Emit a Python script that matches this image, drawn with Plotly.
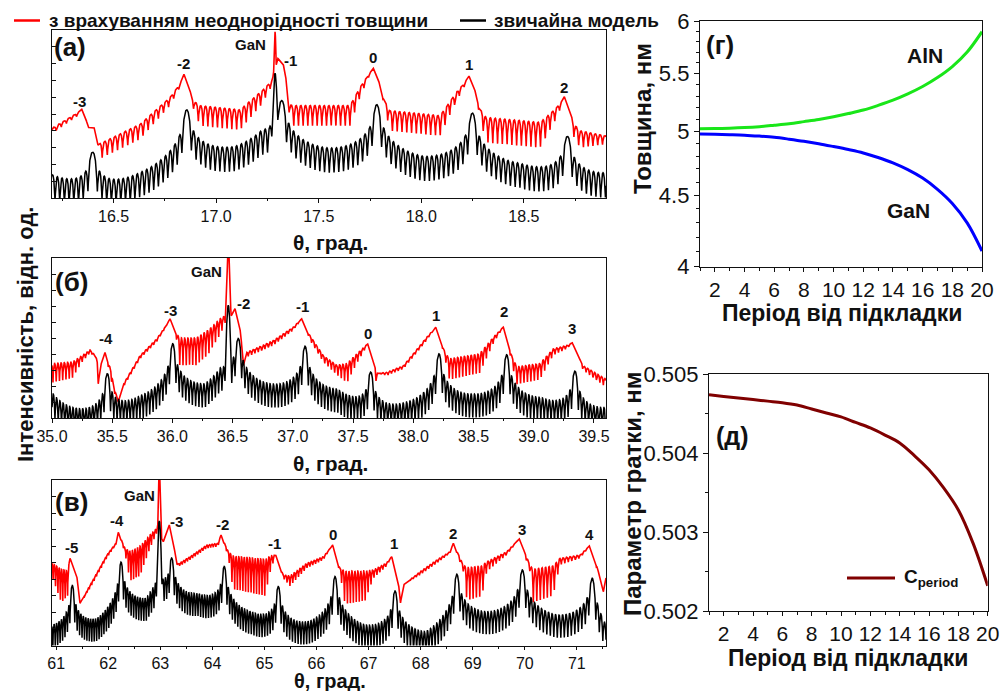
import numpy as np
import plotly.graph_objects as go

W, H = 1000, 691
N = 20  # number of superlattice periods (fringes between satellites)
FONT = "Liberation Sans, Arial, sans-serif"

# ---------------- Panel (a) ----------------
a_order = [-3, -2, -1, 0, 1, 2]
a_black_sat_theta = [16.398, 16.856, 17.320, 17.783, 18.249, 18.712]
a_black_sat_height = [27.0, 52.4, 57.9, 55.4, 50.4, 36.5]
a_black_base_theta = [16.20, 16.627, 17.09, 17.22, 17.55, 18.016, 18.48, 18.90]
a_black_base = [39.5, 41.0, 56.5, 62.0, 55.6, 50.6, 46.6, 40.5]
a_red_sat_theta = [16.345, 16.843, 17.310, 17.766, 18.232, 18.697]
a_red_env_theta = [16.200, 16.327, 16.345, 16.366, 16.375, 16.405, 16.424, 16.444, 16.629, 16.775,
                   16.824, 16.843, 16.863, 16.887, 16.921, 17.116, 17.224, 17.272, 17.301, 17.326,
                   17.338, 17.350, 17.370, 17.652, 17.701, 17.740, 17.766, 17.789, 17.818, 17.847,
                   18.091, 18.164, 18.213, 18.232, 18.257, 18.286, 18.315, 18.579, 18.652, 18.681,
                   18.697, 18.720, 18.744, 18.774, 18.900]
a_red_env_top = [41.5, 51, 52.8, 47, 42, 42, 32, 33, 44, 60,
                 68, 73.6, 68, 58, 55, 52.5, 64, 70, 83, 80,
                 74, 57, 55, 55, 66, 73, 77.2, 71, 59, 52,
                 49, 62, 69, 72.6, 66, 53, 48, 45, 53, 57,
                 60.3, 53, 44, 40, 37]
a_red_env_depth = [3, 2, 0, 0, 0, 0, 2, 9, 9, 5,
                   2, 0, 0, 4, 12, 12, 8, 3, 0, 0,
                   0, 3, 12, 12, 6, 2, 0, 0, 3, 12,
                   12, 6, 2, 0, 0, 5, 15, 15, 7, 3,
                   0, 0, 8, 10, 5]
a_gan_theta = 17.287
a_gan_black = 74.2
a_gan_red = 99.0
a_labels = ["-3", "-2", "GaN", "-1", "0", "1", "2"]
a_label_theta = [16.336, 16.840, 17.168, 17.363, 17.766, 18.232, 18.697]
a_label_val = [57.3, 80.2, 91.1, 82.1, 83.5, 79.2, 65.9]

# ---------------- Panel (б) ----------------
b_order = [-4, -3, -2, -1, 0, 1, 2, 3]
b_black_sat_theta = [35.459, 36.002, 36.547, 37.101, 37.646, 38.213, 38.775, 39.342]
b_black_sat_height = [27.5, 46.3, 49.5, 44.8, 28.5, 40.0, 39.4, 29.1]
b_black_base_theta = [35.0, 35.73, 36.27, 36.40, 36.824, 37.37, 37.93, 38.494, 39.06, 39.6]
b_black_base = [35.4, 39.8, 47.2, 55.0, 47.2, 44.0, 35.6, 40.9, 38.8, 32.4]
b_red_sat_theta = [35.440, 35.980, 36.519, 37.073, 37.621, 38.186, 38.747, 39.320]
b_red_env_theta = [35.000, 35.170, 35.250, 35.316, 35.360, 35.375, 35.384, 35.400, 35.440, 35.470,
                   35.490, 35.510, 35.550, 35.592, 35.731, 35.869, 35.940, 35.980, 36.010, 36.035,
                   36.060, 36.200, 36.300, 36.395, 36.440, 36.490, 36.519, 36.550, 36.575, 36.590,
                   36.617, 36.837, 37.003, 37.073, 37.100, 37.142, 37.253, 37.364, 37.450, 37.530,
                   37.600, 37.621, 37.650, 37.682, 37.690, 37.700, 37.779, 37.917, 38.056, 38.111,
                   38.186, 38.220, 38.263, 38.300, 38.550, 38.664, 38.747, 38.780, 38.817, 38.860,
                   39.050, 39.162, 39.280, 39.320, 39.360, 39.411, 39.600]
b_red_env_top = [34, 35, 39, 42.6, 39, 36, 21.2, 32, 41, 34,
                 30, 21, 10, 21.2, 39, 49.5, 57, 62, 57, 52.6,
                 50, 50, 55, 62, 64, 64, 68.4, 60, 49.5, 33,
                 41, 48.4, 56.8, 62, 57, 51.6, 39, 33, 34, 40,
                 45, 46.3, 40, 32.7, 23, 28, 28.5, 32.7, 45.3, 50.5,
                 56.8, 50, 41, 37, 40, 50.5, 56.8, 49, 39, 32,
                 34, 43.2, 45.5, 47, 40, 32.7, 24.3]
b_red_env_depth = [12, 10, 4, 2, 1, 0, 0, 0, 0, 3,
                   6, 4, 0, 2, 2, 2, 1, 0, 0, 4,
                   17, 17, 15, 10, 5, 0, 0, 0, 4, 0,
                   3, 3, 2, 0, 0, 3, 4, 6, 12, 6,
                   2, 0, 0, 0, 0, 0, 2, 2, 2, 2,
                   0, 0, 4, 13, 12, 4, 0, 0, 5, 11,
                   10, 4, 2, 0, 0, 3, 5]
b_gan_theta = 36.464
b_gan_black = 70.4
b_gan_red = 112.0
b_labels = ["-4", "-3", "GaN", "-2", "-1", "0", "1", "2", "3"]
b_label_theta = [35.446, 35.980, 36.284, 36.594, 37.082, 37.626, 38.186, 38.755, 39.320]
b_label_val = [49.9, 67.3, 91.4, 71.5, 69.4, 52.6, 64.2, 66.7, 55.8]

# ---------------- Panel (в) ----------------
c_order = [-5, -4, -3, -2, -1, 0, 1, 2, 3, 4]
c_black_sat_theta = [61.310, 62.245, 63.219, 64.229, 65.266, 66.355, 67.508, 68.693, 69.953, 71.297]
c_black_sat_height = [36.1, 50.3, 52.7, 47.6, 35.5, 41.6, 32.9, 43.0, 45.6, 40.6]
c_black_base_theta = [60.92, 61.78, 62.73, 62.95, 63.72, 64.75, 65.81, 66.93, 68.10, 69.32, 70.62, 71.56]
c_black_base = [35.5, 39.8, 52.0, 62.0, 55.0, 43.8, 37.8, 35.8, 31.7, 43.8, 41.8, 31.5]
c_red_sat_theta = [61.266, 62.193, 63.173, 64.166, 65.216, 66.311, 67.444, 68.628, 69.895, 71.240]
c_red_env_theta = [60.920, 61.100, 61.220, 61.250, 61.266, 61.394, 61.458, 61.650, 61.971, 62.163,
                   62.193, 62.322, 62.418, 62.610, 62.802, 62.931, 63.058, 63.173, 63.250, 63.315,
                   63.378, 63.570, 63.891, 64.108, 64.166, 64.306, 64.396, 65.011, 65.107, 65.216,
                   65.362, 65.491, 65.812, 66.131, 66.311, 66.451, 66.547, 66.931, 67.091, 67.348,
                   67.444, 67.571, 67.613, 67.667, 67.988, 68.309, 68.564, 68.628, 68.820, 68.890,
                   69.179, 69.269, 69.653, 69.895, 70.100, 70.158, 70.542, 70.677, 71.061, 71.240,
                   71.382, 71.509, 71.560]
c_red_env_top = [49.7, 46, 45, 50, 52.7, 42.6, 25.5, 36.6, 54.7, 62.7,
                 68.4, 58.7, 57, 60, 66.8, 70.8, 62.7, 72.8, 62.7, 49,
                 50, 53.7, 60.7, 61.8, 66.8, 56.7, 54, 52, 54, 54.7,
                 42.6, 42, 49.7, 53.7, 60.7, 46.6, 45, 45, 45.6, 50,
                 53.7, 38.5, 25.7, 36.6, 44.6, 51.7, 56.7, 61.8, 48.6, 47,
                 48, 50.6, 56.7, 64.4, 48.6, 46, 48, 52.7, 54.7, 60.1,
                 48.6, 32.5, 40.8]
c_red_env_depth = [8, 20, 15, 3, 0, 0, 0, 2, 2, 1,
                   0, 3, 18, 18, 8, 3, 0, 0, 0, 0,
                   2, 2, 2, 2, 0, 3, 20, 22, 10, 0,
                   2, 6, 3, 2, 0, 3, 20, 18, 5, 2,
                   0, 0, 0, 0, 2, 2, 1, 0, 4, 20,
                   18, 6, 2, 0, 4, 20, 18, 4, 2, 0,
                   2, 0, 0]
c_gan_theta = 62.981
c_gan_black = 75.2
c_gan_red = 112.0
c_labels = ["-5", "-4", "GaN", "-3", "-2", "-1", "0", "1", "2", "3", "4"]
c_label_theta = [61.298, 62.174, 62.591, 63.315, 64.198, 65.189, 66.323, 67.489, 68.627, 69.953, 71.239]
c_label_val = [59.1, 75.8, 90.9, 74.8, 73.2, 61.8, 67.2, 61.8, 67.8, 69.8, 67.2]

# ---------------- Panel (г) ----------------
g_period = list(range(1, 21))
g_gan = [4.979, 4.977, 4.974, 4.970, 4.962, 4.952, 4.937, 4.920, 4.900, 4.877,
         4.853, 4.826, 4.790, 4.748, 4.695, 4.630, 4.545, 4.440, 4.300, 4.105]
g_aln = [5.022, 5.024, 5.027, 5.032, 5.040, 5.052, 5.065, 5.082, 5.100, 5.123,
         5.150, 5.180, 5.220, 5.265, 5.320, 5.385, 5.465, 5.565, 5.700, 5.895]

# ---------------- Panel (д) ----------------
d_period = list(range(1, 21))
d_c = [0.50474, 0.50472, 0.50470, 0.50468, 0.50466, 0.50464, 0.50461, 0.50456, 0.50451, 0.50446,
       0.50439, 0.50432, 0.50423, 0.50413, 0.50397, 0.50379, 0.50356, 0.50328, 0.50286, 0.50232]


def order_coord(theta, sat_theta, sat_order):
    t = np.asarray(sat_theta, float)
    o = np.asarray(sat_order, float)
    x = np.interp(theta, t, o)
    lo = theta < t[0]
    hi = theta > t[-1]
    x[lo] = o[0] - (t[0] - theta[lo]) / (t[1] - t[0])
    x[hi] = o[-1] + (theta[hi] - t[-1]) / (t[-1] - t[-2])
    return x


def kin(x):
    s2 = np.sin(np.pi * x) ** 2
    small = s2 < 1e-10
    s2c = np.where(small, 1.0, s2)
    S = np.where(small, 1.0, np.sin(N * np.pi * x) ** 2 / (N ** 2 * s2c))
    M = np.where(small, 1.0, np.minimum(1.0 / (N ** 2 * s2c), 1.0))
    return S, M


def black_curve(theta, sat_t, order, sat_h, base_t, base_v, gan_t, gan_h, k, e, gam):
    nodes = sorted(zip(list(sat_t) + list(base_t), list(sat_h) + list(base_v)))
    nt = np.array([n[0] for n in nodes])
    nv = np.array([n[1] for n in nodes])
    B = np.interp(theta, nt, nv)
    S, M = kin(order_coord(theta, sat_t, order))
    g = np.array([gan_t])
    Sg, Mg = kin(order_coord(g, sat_t, order))
    Bg = np.interp(g, nt, nv)[0]
    A = max(10 ** ((gan_h - Bg) / k) - Sg[0] - e * Mg[0], 0.0)
    G = np.exp(-((theta - gan_t) / gam) ** 2)
    return B + k * np.log10(S + e * M + A * G)


def red_curve(theta, sat_t, order, env_t, env_top, env_depth, gan_t, gan_h, gam, e=0.012, ks=40.0):
    x = order_coord(theta, sat_t, order)
    h = np.clip(np.log10(np.sin(N * np.pi * x) ** 2 + e) / np.log10(e), 0, 1)
    y = np.interp(theta, env_t, env_top) - np.interp(theta, env_t, env_depth) * h
    spike = gan_h - ks * np.log10(1 + ((theta - gan_t) / gam) ** 2)
    return np.maximum(y, spike)


def grid(lo, hi, n, gan_t):
    t = np.concatenate([np.linspace(lo, hi, n), np.linspace(gan_t - 0.04, gan_t + 0.04, 600)])
    return np.unique(t)


fig = go.Figure()

panels = [
    dict(ax="", rng=(16.2, 18.9), n=7000, order=a_order,
         bs=a_black_sat_theta, bh=a_black_sat_height, bt=a_black_base_theta, bb=a_black_base,
         rs=a_red_sat_theta, rt=a_red_env_theta, ru=a_red_env_top, rd=a_red_env_depth,
         gt=a_gan_theta, gb=a_gan_black, gr=a_gan_red, k=10.0, e=0.035, gamb=0.005, gamr=0.004),
    dict(ax="2", rng=(35.0, 39.6), n=9000, order=b_order,
         bs=b_black_sat_theta, bh=b_black_sat_height, bt=b_black_base_theta, bb=b_black_base,
         rs=b_red_sat_theta, rt=b_red_env_theta, ru=b_red_env_top, rd=b_red_env_depth,
         gt=b_gan_theta, gb=b_gan_black, gr=b_gan_red, k=10.0, e=0.035, gamb=0.008, gamr=0.006),
    dict(ax="3", rng=(60.92, 71.56), n=11000, order=c_order,
         bs=c_black_sat_theta, bh=c_black_sat_height, bt=c_black_base_theta, bb=c_black_base,
         rs=c_red_sat_theta, rt=c_red_env_theta, ru=c_red_env_top, rd=c_red_env_depth,
         gt=c_gan_theta, gb=c_gan_black, gr=c_gan_red, k=9.0, e=0.03, gamb=0.016, gamr=0.010),
]

for p in panels:
    th = grid(p["rng"][0], p["rng"][1], p["n"], p["gt"])
    yr = red_curve(th, p["rs"], p["order"], p["rt"], p["ru"], p["rd"], p["gt"], p["gr"], p["gamr"])
    yb = black_curve(th, p["bs"], p["order"], p["bh"], p["bt"], p["bb"], p["gt"], p["gb"],
                     p["k"], p["e"], p["gamb"])
    fig.add_trace(go.Scatter(x=th, y=yr, mode="lines", line=dict(color="#ff0000", width=1.6),
                             xaxis="x" + p["ax"], yaxis="y" + p["ax"], hoverinfo="skip"))
    fig.add_trace(go.Scatter(x=th, y=yb, mode="lines", line=dict(color="#000000", width=1.5),
                             xaxis="x" + p["ax"], yaxis="y" + p["ax"], hoverinfo="skip"))

fig.add_trace(go.Scatter(x=g_period, y=g_aln, mode="lines", line=dict(color="#19e619", width=3, shape="spline"),
                         xaxis="x4", yaxis="y4", hoverinfo="skip"))
fig.add_trace(go.Scatter(x=g_period, y=g_gan, mode="lines", line=dict(color="#0000ff", width=3, shape="spline"),
                         xaxis="x4", yaxis="y4", hoverinfo="skip"))
fig.add_trace(go.Scatter(x=d_period, y=d_c, mode="lines", line=dict(color="#800000", width=3, shape="spline"),
                         xaxis="x5", yaxis="y5", hoverinfo="skip"))


def dom_x(a, b):
    return [a / W, b / W]


def dom_y(top, bottom):
    return [1 - bottom / H, 1 - top / H]


axis_common = dict(showline=True, linecolor="#111", linewidth=1.3, mirror=True, showgrid=False,
                   zeroline=False, tickcolor="#111", automargin=False)

xrd_frames = [("", (52, 606), (30, 198), 0.5, 0.25, ".1f"),
              ("2", (52, 606), (258, 418), 0.5, 0.25, ".1f"),
              ("3", (52, 606), (480, 645.5), 1.0, 0.5, "d")]
layout = dict(width=W, height=H, margin=dict(l=0, r=0, t=0, b=0, pad=0, autoexpand=False), showlegend=False,
              paper_bgcolor="white", plot_bgcolor="white", font=dict(family=FONT, color="#111"))
for (ax, xs, ys, dt, mdt, fmt), p in zip(xrd_frames, panels):
    layout["xaxis" + ax] = dict(axis_common, domain=dom_x(*xs), anchor="y" + ax, range=list(p["rng"]),
                                dtick=dt, tick0=0, tickformat=fmt, ticks="outside",
                                ticklen=3 if ax == "3" else 4,
                                tickfont=dict(size=16, family=FONT, color="#111"),
                                minor=dict(ticks="outside", ticklen=2, dtick=mdt, tick0=0))
    layout["yaxis" + ax] = dict(axis_common, domain=dom_y(*ys), anchor="x" + ax, range=[0, 100],
                                showticklabels=False, ticks="inside", ticklen=4, dtick=10)

layout["xaxis4"] = dict(axis_common, domain=dom_x(700, 982), anchor="y4", range=[1, 20],
                        tickvals=list(range(2, 21, 2)), ticks="outside", ticklen=4,
                        tickfont=dict(size=21, family=FONT, color="#111"),
                        minor=dict(ticks="outside", ticklen=3, dtick=1, tick0=0))
layout["yaxis4"] = dict(axis_common, domain=dom_y(21, 266.7), anchor="x4", type="log",
                        range=[np.log10(4), np.log10(6)], tickvals=[4, 4.5, 5, 5.5, 6],
                        ticktext=["4", "4.5", "5", "5.5", "6"], ticks="outside", ticklen=5,
                        tickfont=dict(size=22, family=FONT, color="#111"),
                        minor=dict(ticks="outside", ticklen=3,
                                   tickvals=[4.1, 4.2, 4.3, 4.4, 4.6, 4.7, 4.8, 4.9, 5.1, 5.2, 5.3, 5.4,
                                             5.6, 5.7, 5.8, 5.9]))
layout["xaxis5"] = dict(axis_common, domain=dom_x(709, 987.7), anchor="y5", range=[1, 20],
                        tickvals=list(range(2, 21, 2)), ticks="outside", ticklen=4,
                        tickfont=dict(size=21, family=FONT, color="#111"),
                        minor=dict(ticks="outside", ticklen=3, dtick=1, tick0=0))
layout["yaxis5"] = dict(axis_common, domain=dom_y(374.3, 611), anchor="x5", range=[0.502, 0.505],
                        dtick=0.001, tickformat=".3f", ticks="outside", ticklen=5,
                        tickfont=dict(size=22, family=FONT, color="#111"),
                        minor=dict(ticks="outside", ticklen=3, dtick=0.0005))

ann = []


def txt(x, y, s, size, bold=True, angle=0, xanchor="center", color="#111"):
    ann.append(dict(x=x / W, y=1 - y / H, xref="paper", yref="paper", text=("<b>%s</b>" % s) if bold else s,
                    showarrow=False, textangle=angle, xanchor=xanchor, yanchor="middle",
                    font=dict(size=size, family=FONT, color=color)))


# peak labels in data coordinates
for ax, labs, lt, lv in [("", a_labels, a_label_theta, a_label_val),
                         ("2", b_labels, b_label_theta, b_label_val),
                         ("3", c_labels, c_label_theta, c_label_val)]:
    for s, t, v in zip(labs, lt, lv):
        ann.append(dict(x=t, y=v, xref="x" + ax, yref="y" + ax, text="<b>%s</b>" % s, showarrow=False,
                        font=dict(size=15, family=FONT, color="#111")))

# panel letters
txt(70, 47, "(a)", 26)
txt(71.7, 282, "(б)", 26)
txt(71.7, 502, "(в)", 26)
txt(720, 45, "(г)", 26)
txt(732, 436, "(д)", 25)
# axis titles
txt(330, 242, "θ, град.", 21)
txt(330, 463, "θ, град.", 21)
txt(330, 680.5, "θ, град.", 20)
txt(25, 335, "Інтенсивність, відн. од.", 22, angle=-90)
txt(842, 313, "Період від підкладки", 23)
txt(848, 658, "Період від підкладки", 23)
txt(643, 119, "Товщина, нм", 24, angle=-90)
txt(632, 494, "Параметр гратки, нм", 24, angle=-90)
# curve labels in (г)
txt(925, 55, "AlN", 21)
txt(908, 210, "GaN", 21)
# legend text
txt(47, 20, "з врахуванням неоднорідності товщини", 19, xanchor="left")
txt(492, 20, "звичайна модель", 19, xanchor="left")
txt(902, 578, "C<sub>period</sub>", 19, xanchor="left")

shapes = [
    dict(type="line", xref="paper", yref="paper", x0=14 / W, x1=40 / W, y0=1 - 20.5 / H, y1=1 - 20.5 / H,
         line=dict(color="#ff0000", width=2.5)),
    dict(type="line", xref="paper", yref="paper", x0=460 / W, x1=486 / W, y0=1 - 20.5 / H, y1=1 - 20.5 / H,
         line=dict(color="#000000", width=2.5)),
    dict(type="line", xref="paper", yref="paper", x0=847 / W, x1=895 / W, y0=1 - 578 / H, y1=1 - 578 / H,
         line=dict(color="#800000", width=3)),
]
layout["annotations"] = ann
layout["shapes"] = shapes
fig.update_layout(**layout)
fig.write_html("out.html", config={"displayModeBar": False},
               post_script="document.body.style.margin='0px';document.body.style.padding='0px';")
